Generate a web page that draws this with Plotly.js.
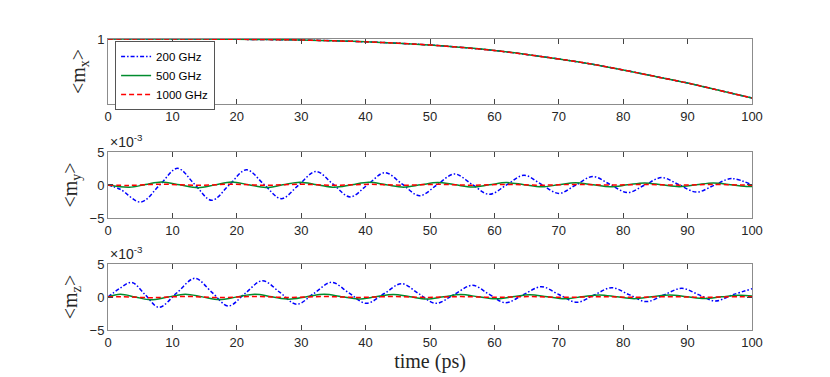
<!DOCTYPE html>
<html>
<head>
<meta charset="utf-8">
<script src="https://cdn.plot.ly/plotly-3.0.1.min.js"></script>
<style>
  body { margin: 0; background: #fff; }
  #plot { width: 830px; height: 377px; }
</style>
</head>
<body>
<div id="plot"></div>
<script>
// <m_x> : the three curves lie on top of each other
const tMx = [0,5,10,15,20,25,30,35,40,45,50,55,60,65,70,75,80,85,90,95,100];
const mx = [1,1,1,0.99985,0.99955,0.9991,0.9985,0.9973,0.9958,0.9937,0.991,0.98725,0.98275,0.97675,0.97,0.9625,0.9535,0.94375,0.934,0.92275,0.9115];

// <m_y> (units of 1e-3)
const tMy200 = [0,1.9,5.1,8.0,10.8,13.45,16.1,18.8,21.5,24.2,26.9,29.6,32.3,34.95,37.6,40.3,43.0,45.7,48.4,51.1,53.8,56.5,59.2,61.9,64.6,67.3,70.0,72.65,75.3,78.0,80.7,83.35,86.0,88.7,91.4,94.1,96.8,100];
const my200 = [0,-0.65,-2.58,-0.03,2.52,0.1,-2.32,-0.01,2.3,0.12,-2.07,-0.01,2.05,0.12,-1.8,0.03,1.87,0.12,-1.62,0.02,1.67,0.12,-1.42,0.02,1.47,0.1,-1.27,0,1.28,0.06,-1.15,-0.01,1.12,0.02,-1.08,-0.05,0.97,0];
const tMy500 = [0,3.3,5.8,8.3,11.15,14.0,16.6,19.2,21.85,24.5,27.15,29.8,32.5,35.2,37.85,40.5,43.2,45.9,48.55,51.2,53.9,56.6,59.25,61.9,64.6,67.3,69.95,72.6,75.3,78.0,80.65,83.3,86.0,88.7,91.35,94.0,96.7,99.4,100];
const my500 = [0,-0.33,0.06,0.45,0.02,-0.4,0.02,0.45,0.04,-0.37,0.02,0.42,0.03,-0.35,0.02,0.4,0.03,-0.33,0.02,0.38,0.04,-0.3,0.03,0.36,0.04,-0.28,0.03,0.34,0.03,-0.27,0.02,0.32,0.03,-0.25,0.02,0.3,0.03,-0.24,-0.23];
const tMy1000 = [0,3.3,8.3,14.0,19.2,24.5,29.8,35.2,40.5,45.9,51.2,56.6,61.9,67.3,72.6,78.0,83.3,88.7,94.0,99.4,100];
const my1000 = [0,-0.06,0.12,-0.05,0.12,-0.04,0.11,-0.04,0.1,-0.03,0.1,-0.03,0.09,-0.03,0.09,-0.02,0.08,-0.02,0.08,-0.02,-0.02];

// <m_z> (units of 1e-3)
const tMz200 = [0,1.8,3.7,5.8,7.9,10.7,13.5,16.1,18.7,21.3,24.0,26.7,29.3,32.0,34.7,37.4,40.1,42.9,45.6,48.2,50.9,53.8,56.6,59.1,61.7,64.5,67.3,70.0,72.8,75.5,78.2,80.9,83.6,86.3,89.1,91.7,94.3,97.0,100];
const mz200 = [0,1.3,2.2,0.32,-1.56,0.64,2.83,0.74,-1.36,0.56,2.47,0.69,-1.1,0.56,2.22,0.63,-0.96,0.53,2.02,0.53,-0.96,0.41,1.77,0.46,-0.86,0.35,1.56,0.38,-0.8,0.31,1.41,0.36,-0.7,0.31,1.31,0.36,-0.6,0.33,1.25];
const tMz500 = [0,1.9,4.25,6.6,9.3,12.0,14.65,17.3,20.05,22.8,25.45,28.1,30.85,33.6,36.25,38.9,41.6,44.3,46.9,49.5,52.15,54.8,57.45,60.1,62.8,65.5,68.2,70.9,73.6,76.3,79.0,81.7,84.45,87.2,89.9,92.6,95.3,98.0,100];
const mz500 = [0,0.4,0,-0.42,0,0.42,0.02,-0.38,0.02,0.42,0.04,-0.33,0.04,0.4,0.05,-0.3,0.04,0.38,0.04,-0.3,0.03,0.36,0.04,-0.28,0.03,0.34,0.04,-0.27,0.03,0.32,0.04,-0.25,0.03,0.3,0.03,-0.24,0.02,0.28,0.15];
const tMz1000 = [0,1.9,6.6,12.0,17.3,22.8,28.1,33.6,38.9,44.3,49.5,54.8,60.1,65.5,70.9,76.3,81.7,87.2,92.6,98.0,100];
const mz1000 = [0,0.05,-0.1,0.08,-0.08,0.08,-0.07,0.07,-0.06,0.07,-0.06,0.06,-0.05,0.06,-0.05,0.05,-0.05,0.05,-0.04,0.05,0.03];

const names = ['200 GHz', '500 GHz', '1000 GHz'];
const colors = ['#0000ff', '#008c2e', '#ff0000'];
// short MATLAB-like patterns
const dashes = ['4px,2px,1.5px,2px', 'solid', '5px,3px'];

function linea(x, y, i, xa, ya, leyenda) {
    return {
        x: x, y: y, type: 'scatter', mode: 'lines',
        name: names[i], xaxis: xa, yaxis: ya, showlegend: leyenda,
        line: { color: colors[i], dash: dashes[i], width: 1.5, shape: 'spline' }
    };
}

const data = [
    linea(tMx, mx, 0, 'x', 'y', true),
    linea(tMx, mx, 1, 'x', 'y', true),
    linea(tMx, mx, 2, 'x', 'y', true),
    linea(tMy200, my200, 0, 'x2', 'y2', false),
    linea(tMy500, my500, 1, 'x2', 'y2', false),
    linea(tMy1000, my1000, 2, 'x2', 'y2', false),
    linea(tMz200, mz200, 0, 'x3', 'y3', false),
    linea(tMz500, mz500, 1, 'x3', 'y3', false),
    linea(tMz1000, mz1000, 2, 'x3', 'y3', false)
];

const tickFont = { family: 'Liberation Sans, Arial, sans-serif', size: 13, color: '#262626' };
const serif = { family: 'Liberation Serif, Times New Roman, serif', size: 20, color: '#262626' };

function ejeX(anchor, extra) {
    return Object.assign({
        anchor: anchor, domain: [0, 1], range: [0, 100],
        tickvals: [0,10,20,30,40,50,60,70,80,90,100],
        ticks: 'inside', ticklen: 5, tickcolor: '#444', tickfont: tickFont,
        showline: true, linecolor: '#8c8c8c', linewidth: 1, mirror: 'ticks',
        showgrid: false, zeroline: false
    }, extra || {});
}
function ejeY(anchor, domain, range, tickvals, titulo) {
    return {
        anchor: anchor, domain: domain, range: range, tickvals: tickvals,
        ticks: 'inside', ticklen: 5, tickcolor: '#444', tickfont: tickFont,
        showline: true, linecolor: '#8c8c8c', linewidth: 1, mirror: 'ticks',
        showgrid: false, zeroline: false,
        title: { text: titulo, font: serif, standoff: 6 }
    };
}

const layout = {
    width: 830, height: 377,
    margin: { l: 108, r: 78, t: 39, b: 47 },
    paper_bgcolor: '#fff', plot_bgcolor: '#fff',
    xaxis: ejeX('y'),
    xaxis2: ejeX('y2'),
    xaxis3: ejeX('y3', { title: { text: 'time (ps)', font: serif, standoff: 2 } }),
    yaxis: ejeY('x', [0.7766, 1], [0.9025, 1], [1], '&lt;m<sub>x</sub>&gt;'),
    yaxis2: ejeY('x2', [0.3849, 0.6117], [-5, 5], [-5, 0, 5], '&lt;m<sub>y</sub>&gt;'),
    yaxis3: ejeY('x3', [0, 0.2268], [-5, 5], [-5, 0, 5], '&lt;m<sub>z</sub>&gt;'),
    legend: {
        x: 0.011, y: 0.993, xanchor: 'left', yanchor: 'top',
        bgcolor: '#fff', bordercolor: '#555', borderwidth: 1,
        font: { family: 'Liberation Sans, Arial, sans-serif', size: 11.5, color: '#000' },
        tracegroupgap: 0, itemwidth: 30
    },
    annotations: [
        { text: '×10<sup>-3</sup>', xref: 'paper', yref: 'paper', x: 0, y: 0.6117,
          xanchor: 'left', yanchor: 'bottom', showarrow: false,
          font: { family: 'Liberation Sans, Arial, sans-serif', size: 14, color: '#262626' } },
        { text: '×10<sup>-3</sup>', xref: 'paper', yref: 'paper', x: 0, y: 0.2268,
          xanchor: 'left', yanchor: 'bottom', showarrow: false,
          font: { family: 'Liberation Sans, Arial, sans-serif', size: 14, color: '#262626' } }
    ]
};

Plotly.newPlot('plot', data, layout, { displayModeBar: false, staticPlot: true });
</script>
</body>
</html>
